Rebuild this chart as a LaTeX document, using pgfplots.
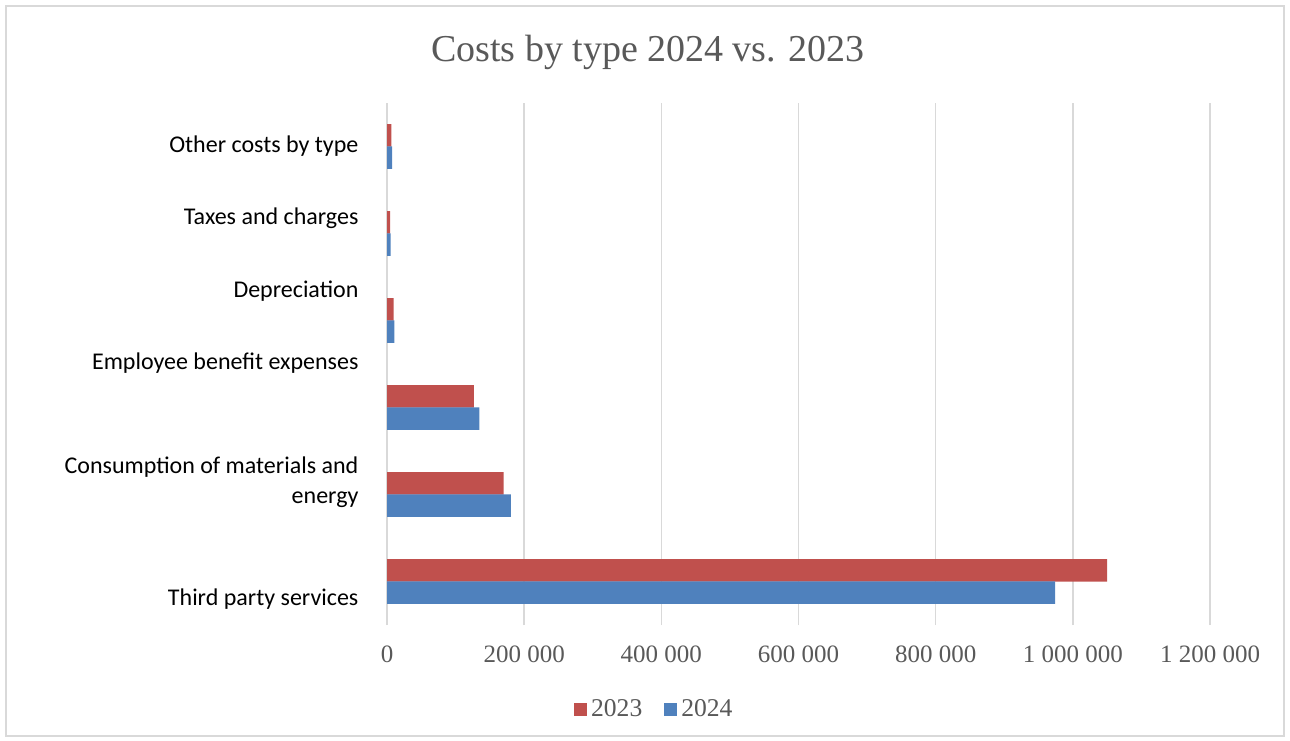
\documentclass[border=0pt]{standalone}
\usepackage{fontspec}
\setmainfont{Liberation Serif}
\newfontfamily\carlito{Carlito}
\usepackage{pgfplots}
\pgfplotsset{compat=1.18}
\definecolor{red23}{HTML}{C0504D}
\definecolor{blue24}{HTML}{4F81BD}
\definecolor{txt}{HTML}{595959}
\definecolor{gridc}{HTML}{D9D9D9}
\begin{document}
\begin{tikzpicture}
\path[use as bounding box] (0,0) rectangle (645pt,370pt);
\draw[gridc, line width=0.6pt] (3pt,2pt) rectangle (642pt,367pt);
\node[anchor=base, text=txt, font=\fontsize{19}{23}\selectfont] at (324pt,339pt) {Costs by type 2024 vs. 2023};
\begin{axis}[
  at={(193.5pt,57.5pt)}, anchor=south west,
  scale only axis, width=411.5pt, height=261pt,
  xbar, bar width=11.25pt, bar shift=0pt,
  xmin=0, xmax=1200000, ymin=-0.5, ymax=5.5,
  axis line style={draw=none},
  tick style={draw=none},
  xmajorgrids, major grid style={gridc, line width=0.75pt},
  xtick={0,200000,400000,600000,800000,1000000,1200000},
  xticklabels={0,200 000,400 000,600 000,800 000,1 000 000,1 200 000},
  scaled x ticks=false,
  xticklabel style={font=\fontsize{12.5}{15}\selectfont, text=txt, yshift=-7pt},
  ytick={-0.201,1.144,2.511,3.339,4.178,5.006},
  yticklabels={Third party services,{Consumption of materials and\\energy},Employee benefit expenses,Depreciation,Taxes and charges,Other costs by type},
  yticklabel style={font=\carlito\fontsize{12}{15}\selectfont, text=black, align=right, xshift=-6.5pt},
  legend style={at={(0.326,-0.161)}, anchor=center, draw=none, legend columns=2,
    font=\fontsize{12.8}{15}\selectfont, text=txt,
    /tikz/every even column/.append style={column sep=9pt}},
  legend image code/.code={\draw[#1, draw=none] (0pt,-3.25pt) rectangle (6.5pt,3.25pt);},
]
\addplot[fill=red23, draw=none] coordinates {
  (1050000,0.129) (170000,1.129) (126800,2.129) (9700,3.129) (4400,4.129) (6300,5.129)};
\addlegendentry{2023}
\addplot[fill=blue24, draw=none] coordinates {
  (974000,-0.129) (180800,0.871) (134600,1.871) (10700,2.871) (5300,3.871) (7300,4.871)};
\addlegendentry{2024}
\end{axis}
\end{tikzpicture}
\end{document}
